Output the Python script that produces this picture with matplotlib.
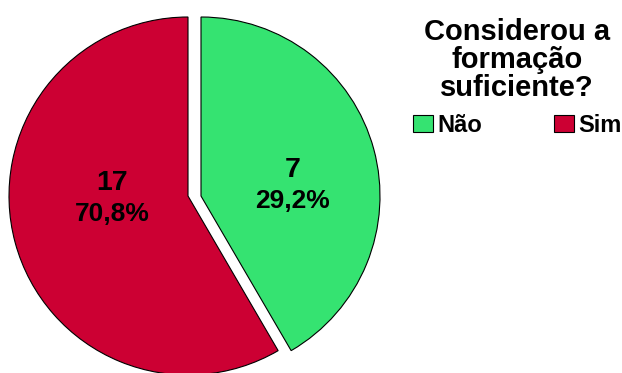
import matplotlib.pyplot as plt

# dados do grafico
categorias = ['Não', 'Sim']
contagens = [7, 17]
# proporcao das fatias como aparecem desenhadas na figura original
fatias_desenho = [41.6, 58.4]
cores = ['#35E371', '#CC0033']
titulo = 'Considerou a\nformação\nsuficiente?'

total = sum(contagens)
percentuais = [100.0 * c / total for c in contagens]

plt.rcParams['font.family'] = ['Liberation Sans', 'DejaVu Sans']

fig = plt.figure(figsize=(6.22, 3.73), dpi=100)
ax = fig.add_axes([0, 0, 1, 1])

# centro e raio em pixels (eixo em coordenadas de pixel)
cx, cy, raio = 194.5, 177, 179
desloc = 6.5

fatias, _ = ax.pie(fatias_desenho, colors=cores, startangle=90, counterclock=False,
                   center=(cx, cy), radius=raio,
                   wedgeprops=dict(edgecolor='black', linewidth=0.8))
# fatias separadas na horizontal
fatias[0].set_center((cx + desloc, cy))
fatias[1].set_center((cx - desloc, cy))

ax.set_xlim(0, 622)
ax.set_ylim(0, 373)
ax.set_aspect('equal')
ax.axis('off')

# posicao dos rotulos (centro do grupo)
pos_rotulos = [(293, 187), (112, 174)]
for (x, y), n, p in zip(pos_rotulos, contagens, percentuais):
    ax.text(x, y + 16, str(n), ha='center', va='center',
            fontsize=20.5, fontweight='bold')
    ax.text(x, y - 15, ('%.1f%%' % p).replace('.', ','), ha='center',
            va='center', fontsize=19, fontweight='bold')

leg = ax.legend(fatias, categorias, title=titulo, ncol=2, frameon=False,
                loc='upper center', bbox_to_anchor=(517 / 622, 1 - 6 / 373),
                bbox_transform=fig.transFigure, borderpad=0,
                fontsize=17, handlelength=0.85, handleheight=0.72,
                handletextpad=0.17, columnspacing=3.05, alignment='center',
                title_fontproperties={'size': 21, 'weight': 'bold'})
leg.get_title().set_linespacing(1.0)
leg.get_title().set_multialignment('center')
for t in leg.get_texts():
    t.set_fontweight('bold')

fig.savefig('out.png', dpi=100, facecolor='white')
